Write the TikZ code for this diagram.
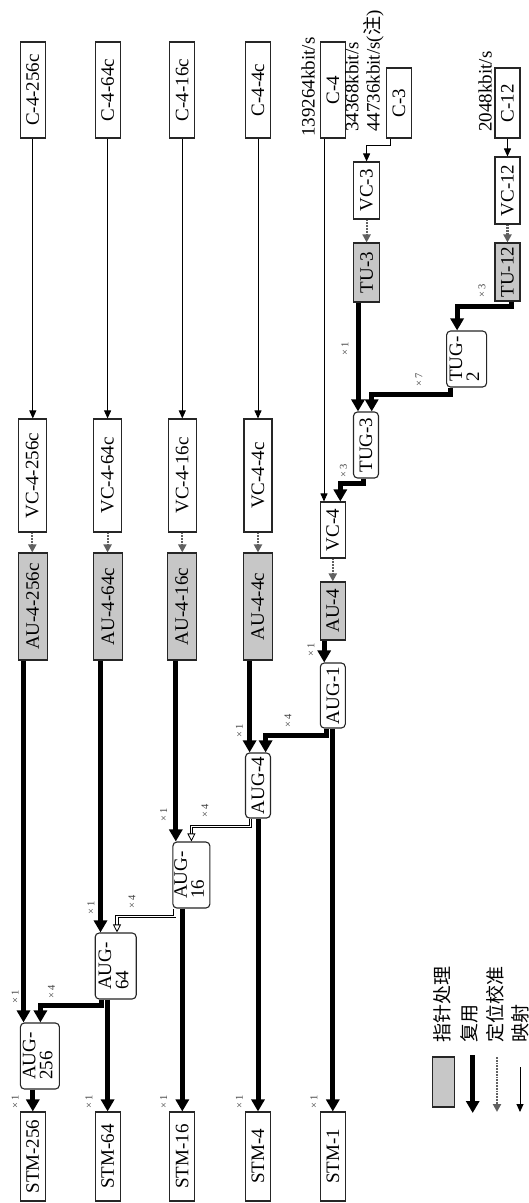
\documentclass[tikz,border=0pt]{standalone}
\usepackage{fontspec}
\usepackage{graphicx}
\setmainfont{Liberation Serif}
\newfontfamily\cjkf{Noto Sans CJK SC}
\usetikzlibrary{arrows.meta}
\newcommand\rotlab[1]{\rotatebox{90}{#1}}
\newcommand\twol[2]{\rotatebox{90}{\begin{tabular}{@{}l@{}}#1\\#2\end{tabular}}}
\begin{document}
\begin{tikzpicture}[x=1pt,y=-1pt,
  box/.style={draw=black!85, line width=1.1pt, fill=white, inner sep=0pt, font=\fontsize{19}{15}\selectfont},
  gbox/.style={box, fill=black!22},
  rbox/.style={box, rounded corners=4pt},
  mapar/.style={draw=black, line width=0.9pt, -{Triangle[width=7pt,length=8pt]}},
  alignar/.style={draw=black!62, line width=2.2pt, dash pattern=on 1.8pt off 1pt, -{Triangle[width=8pt,length=8pt]}},
  muxar/.style={draw=black, line width=5pt, -{Triangle[width=13pt,length=12pt]}},
  dmuxar/.style={draw=black, line width=0.8pt, double=white, double distance=1.6pt, -{Triangle[open,width=8pt,length=8pt]}},
  mult/.style={inner sep=0pt, text=black!75, font=\fontsize{10.5}{10.5}\selectfont},
  rate/.style={inner sep=0pt, font=\fontsize{19}{17}\selectfont},
  leg/.style={inner sep=0pt, font=\cjkf\fontsize{19}{19}\selectfont},
]
\useasboundingbox (0,0) rectangle (528,1203);

% C boxes
\node[box, minimum width=25pt, minimum height=96pt] (C256) at (32.8,90) {\rotlab{C-4-256c}};
\node[box, minimum width=25pt, minimum height=96pt] (C64) at (107.6,90) {\rotlab{C-4-64c}};
\node[box, minimum width=25pt, minimum height=96pt] (C16) at (182.3,90) {\rotlab{C-4-16c}};
\node[box, minimum width=25pt, minimum height=96pt] (C4c) at (258,90) {\rotlab{C-4-4c}};
\node[box, minimum width=25pt, minimum height=96pt] (C4) at (332.8,90) {\rotlab{C-4}};
\node[box, minimum width=24.5pt, minimum height=70pt] (C3) at (399,103) {\rotlab{C-3}};
\node[box, minimum width=25pt, minimum height=70pt] (C12) at (507.5,103) {\rotlab{C-12}};

% rate labels
\node[rate, anchor=south] (r4) at (308,137) {\rotlab{139264kbit/s}};
\node[rate, anchor=south] (r3) at (365,132) {\twol{34368kbit/s}{44736kbit/s({\cjkf 注})}};
\node[rate, anchor=south] (r12) at (485,132) {\rotlab{2048kbit/s}};

% VC boxes
\node[box, minimum width=28pt, minimum height=113pt] (VC256) at (32.3,475.5) {\rotlab{VC-4-256c}};
\node[box, minimum width=28pt, minimum height=113pt] (VC64) at (107.6,475.5) {\rotlab{VC-4-64c}};
\node[box, minimum width=28pt, minimum height=113pt] (VC16) at (182.3,475.5) {\rotlab{VC-4-16c}};
\node[box, minimum width=28pt, minimum height=113pt] (VC4c) at (258,475.5) {\rotlab{VC-4-4c}};
\node[box, minimum width=25pt, minimum height=56pt] (VC4) at (332.8,530) {\rotlab{VC-4}};
\node[box, minimum width=26pt, minimum height=57pt] (VC3) at (366.6,190.5) {\rotlab{VC-3}};
\node[box, minimum width=25pt, minimum height=67pt] (VC12) at (507.5,190.5) {\rotlab{VC-12}};

% AU / TU boxes
\node[gbox, minimum width=29pt, minimum height=107pt] (AU256) at (32.8,606.5) {\rotlab{AU-4-256c}};
\node[gbox, minimum width=29pt, minimum height=107pt] (AU64) at (108,606.5) {\rotlab{AU-4-64c}};
\node[gbox, minimum width=29pt, minimum height=107pt] (AU16) at (181.8,606.5) {\rotlab{AU-4-16c}};
\node[gbox, minimum width=29pt, minimum height=107pt] (AU4c) at (257.6,606.5) {\rotlab{AU-4-4c}};
\node[gbox, minimum width=25pt, minimum height=58pt] (AU4) at (332.8,611) {\rotlab{AU-4}};
\node[gbox, minimum width=26pt, minimum height=59pt] (TU3) at (366.6,272.5) {\rotlab{TU-3}};
\node[gbox, minimum width=25pt, minimum height=58pt] (TU12) at (507.5,272) {\rotlab{TU-12}};

% group boxes
\node[rbox, minimum width=25pt, minimum height=66pt] (TUG3) at (366,445) {\rotlab{TUG-3}};
\node[rbox, minimum width=40pt, minimum height=56pt] (TUG2) at (466.6,359) {\twol{TUG-}{2}};
\node[rbox, minimum width=25pt, minimum height=65pt] (AUG1) at (332.8,695.5) {\rotlab{AUG-1}};
\node[rbox, minimum width=25pt, minimum height=65pt] (AUG4) at (258,785.5) {\rotlab{AUG-4}};
\node[rbox, minimum width=37pt, minimum height=66pt] (AUG16) at (191.4,875) {\twol{AUG-}{16}};
\node[rbox, minimum width=41pt, minimum height=66pt] (AUG64) at (115.7,966) {\twol{AUG-}{64}};
\node[rbox, minimum width=39pt, minimum height=66pt] (AUG256) at (39.9,1056) {\twol{AUG-}{256}};

% STM boxes
\node[box, minimum width=25pt, minimum height=89pt] (STM256) at (32.8,1156.5) {\rotlab{STM-256}};
\node[box, minimum width=25pt, minimum height=89pt] (STM64) at (107.6,1156.5) {\rotlab{STM-64}};
\node[box, minimum width=25pt, minimum height=89pt] (STM16) at (182.3,1156.5) {\rotlab{STM-16}};
\node[box, minimum width=25pt, minimum height=89pt] (STM4) at (258,1156.5) {\rotlab{STM-4}};
\node[box, minimum width=25pt, minimum height=89pt] (STM1) at (332.8,1156.5) {\rotlab{STM-1}};

% mapping
\draw[mapar] (C256.south) -- (C256.south |- VC256.north);
\draw[mapar] (C64.south) -- (C64.south |- VC64.north);
\draw[mapar] (C16.south) -- (C16.south |- VC16.north);
\draw[mapar] (C4c.south) -- (C4c.south |- VC4c.north);
\draw[mapar] ([xshift=-8.8pt]C4.south) -- ([xshift=-8.8pt]C4.south |- VC4.north);
\draw[mapar] ([xshift=-8.5pt]C3.south) -- ++(0,7) -| (VC3.north);
\draw[mapar] (C12.south) -- (C12.south |- VC12.north);

% alignment
\draw[alignar] (VC256.south) -- (VC256.south |- AU256.north);
\draw[alignar] (VC64.south) -- (VC64.south |- AU64.north);
\draw[alignar] (VC16.south) -- (VC16.south |- AU16.north);
\draw[alignar] (VC4c.south) -- (VC4c.south |- AU4c.north);
\draw[alignar] (VC4.south) -- (VC4.south |- AU4.north);
\draw[alignar] (VC3.south) -- (VC3.south |- TU3.north);
\draw[alignar] (VC12.south) -- (VC12.south |- TU12.north);

% multiplexing
\draw[muxar] ([xshift=-9.3pt]AU256.south) -- ([xshift=-9.3pt]AU256.south |- AUG256.north);
\draw[muxar] ([xshift=-7.5pt]AU64.south) -- ([xshift=-7.5pt]AU64.south |- AUG64.north);
\draw[muxar] ([xshift=-6pt]AU16.south) -- ([xshift=-6pt]AU16.south |- AUG16.north);
\draw[muxar] ([xshift=-8pt]AU4c.south) -- ([xshift=-8pt]AU4c.south |- AUG4.north);
\draw[muxar] ([xshift=-8.6pt]AU4.south) -- ([xshift=-8.6pt]AU4.south |- AUG1.north);
\draw[muxar] (STM256.north |- AUG256.south) -- (STM256.north);
\draw[muxar] (STM64.north |- AUG64.south) -- (STM64.north);
\draw[muxar] (STM16.north |- AUG16.south) -- (STM16.north);
\draw[muxar] (STM4.north |- AUG4.south) -- (STM4.north);
\draw[muxar] (STM1.north |- AUG1.south) -- (STM1.north);
\draw[muxar] ([xshift=-14.2pt]AUG64.south) -- ++(0,6) -| ([xshift=0.5pt]AUG256.north);
\draw[dmuxar] ([xshift=-16.7pt]AUG16.south) -- ++(0,8) -| ([xshift=1.3pt]AUG64.north);
\draw[dmuxar] ([xshift=-7.5pt]AUG4.south) -- ++(0,8) -| (AUG16.north);
\draw[muxar] ([xshift=-6.8pt]AUG1.south) -- ++(0,7) -| ([xshift=7.6pt]AUG4.north);
\draw[muxar] ([xshift=-8.6pt]TU3.south) -- ([xshift=-8.6pt]TU3.south |- TUG3.north);
\draw[muxar] ([xshift=-16.6pt]TUG2.south) -- ++(0,7) -| ([xshift=5.7pt]TUG3.north);
\draw[muxar] ([xshift=4pt]TU12.south) -- ++(0,5) -| ([xshift=-9.5pt]TUG2.north);
\draw[muxar] ([xshift=-2.5pt]TUG3.south) -- ++(0,5) -| ([xshift=7.5pt]VC4.north);

% multiplier labels
\node[mult] (m1) at (345,349) {\rotlab{× 1}};
\node[mult] (m2) at (419,380) {\rotlab{× 7}};
\node[mult] (m3) at (482,291) {\rotlab{× 3}};
\node[mult] (m4) at (343.4,471) {\rotlab{× 3}};
\node[mult] (m5) at (311,650) {\rotlab{× 1}};
\node[mult] (m6) at (239.4,731) {\rotlab{× 1}};
\node[mult] (m7) at (288,721) {\rotlab{× 4}};
\node[mult] (m8) at (163.6,815) {\rotlab{× 1}};
\node[mult] (m9) at (205,811) {\rotlab{× 4}};
\node[mult] (m10) at (91,908) {\rotlab{× 1}};
\node[mult] (m11) at (132,902) {\rotlab{× 4}};
\node[mult] (m12) at (15.2,997) {\rotlab{× 1}};
\node[mult] (m13) at (51.5,992) {\rotlab{× 4}};
\node[mult] (s1) at (15.2,1102) {\rotlab{× 1}};
\node[mult] (s2) at (88.9,1102) {\rotlab{× 1}};
\node[mult] (s3) at (163.6,1102) {\rotlab{× 1}};
\node[mult] (s4) at (239.4,1102) {\rotlab{× 1}};
\node[mult] (s5) at (314,1102) {\rotlab{× 1}};

% legend
\node[gbox, minimum width=22pt, minimum height=50pt, line width=1.5pt] (lgbox) at (443.4,1082) {};
\node[leg, anchor=south] (l1) at (442.4,1043) {\rotlab{指针处理}};
\coordinate (la1) at (472.7,1055);
\coordinate (la2) at (472.7,1113);
\draw[muxar] (la1) -- (la2);
\node[leg, anchor=south] (l2) at (469.7,1043) {\rotlab{复用}};
\coordinate (lb1) at (497,1057);
\coordinate (lb2) at (497,1112);
\draw[alignar] (lb1) -- (lb2);
\node[leg, anchor=south] (l3) at (495,1043) {\rotlab{定位校准}};
\coordinate (lc1) at (520,1067);
\coordinate (lc2) at (520,1112);
\draw[mapar] (lc1) -- (lc2);
\node[leg, anchor=south] (l4) at (520,1043) {\rotlab{映射}};
\end{tikzpicture}
\end{document}
